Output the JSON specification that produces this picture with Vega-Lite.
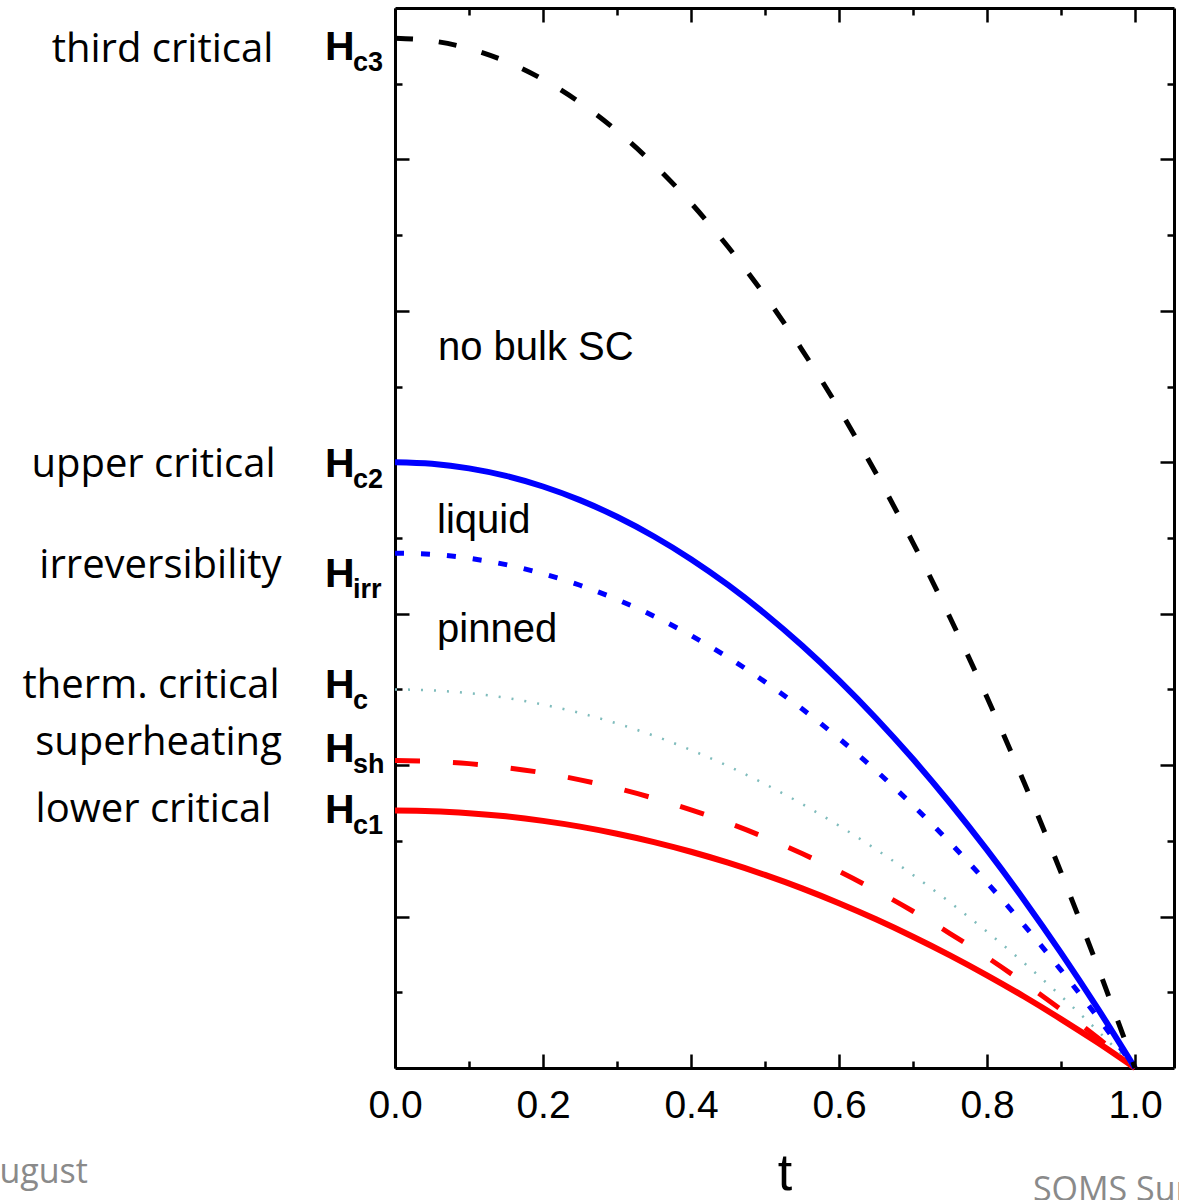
{
  "$schema": "https://vega.github.io/schema/vega-lite/v6.json",
  "width": 779,
  "height": 1060,
  "autosize": "none",
  "padding": {"left": 395, "top": 8, "right": 5, "bottom": 132},
  "background": "white",
  "config": {"view": {"stroke": null}, "axis": {"grid": false}},
  "datasets": {
    "curves": [
      {"curve": "Hc3", "t": 0, "H": 6.8}, {"curve": "Hc3", "t": 0.05, "H": 6.783}, {"curve": "Hc3", "t": 0.1, "H": 6.732}, {"curve": "Hc3", "t": 0.15, "H": 6.647}, {"curve": "Hc3", "t": 0.2, "H": 6.528}, {"curve": "Hc3", "t": 0.25, "H": 6.375}, {"curve": "Hc3", "t": 0.3, "H": 6.188}, {"curve": "Hc3", "t": 0.35, "H": 5.967}, {"curve": "Hc3", "t": 0.4, "H": 5.712}, {"curve": "Hc3", "t": 0.45, "H": 5.423}, {"curve": "Hc3", "t": 0.5, "H": 5.1}, {"curve": "Hc3", "t": 0.55, "H": 4.743}, {"curve": "Hc3", "t": 0.6, "H": 4.352}, {"curve": "Hc3", "t": 0.65, "H": 3.927}, {"curve": "Hc3", "t": 0.7, "H": 3.468}, {"curve": "Hc3", "t": 0.75, "H": 2.975}, {"curve": "Hc3", "t": 0.8, "H": 2.448}, {"curve": "Hc3", "t": 0.85, "H": 1.887}, {"curve": "Hc3", "t": 0.9, "H": 1.292}, {"curve": "Hc3", "t": 0.95, "H": 0.663}, {"curve": "Hc3", "t": 1.0, "H": 0},
      {"curve": "Hc2", "t": 0, "H": 4.0}, {"curve": "Hc2", "t": 0.05, "H": 3.99}, {"curve": "Hc2", "t": 0.1, "H": 3.96}, {"curve": "Hc2", "t": 0.15, "H": 3.91}, {"curve": "Hc2", "t": 0.2, "H": 3.84}, {"curve": "Hc2", "t": 0.25, "H": 3.75}, {"curve": "Hc2", "t": 0.3, "H": 3.64}, {"curve": "Hc2", "t": 0.35, "H": 3.51}, {"curve": "Hc2", "t": 0.4, "H": 3.36}, {"curve": "Hc2", "t": 0.45, "H": 3.19}, {"curve": "Hc2", "t": 0.5, "H": 3.0}, {"curve": "Hc2", "t": 0.55, "H": 2.79}, {"curve": "Hc2", "t": 0.6, "H": 2.56}, {"curve": "Hc2", "t": 0.65, "H": 2.31}, {"curve": "Hc2", "t": 0.7, "H": 2.04}, {"curve": "Hc2", "t": 0.75, "H": 1.75}, {"curve": "Hc2", "t": 0.8, "H": 1.44}, {"curve": "Hc2", "t": 0.85, "H": 1.11}, {"curve": "Hc2", "t": 0.9, "H": 0.76}, {"curve": "Hc2", "t": 0.95, "H": 0.39}, {"curve": "Hc2", "t": 1.0, "H": 0},
      {"curve": "Hirr", "t": 0, "H": 3.4}, {"curve": "Hirr", "t": 0.05, "H": 3.392}, {"curve": "Hirr", "t": 0.1, "H": 3.366}, {"curve": "Hirr", "t": 0.15, "H": 3.324}, {"curve": "Hirr", "t": 0.2, "H": 3.264}, {"curve": "Hirr", "t": 0.25, "H": 3.188}, {"curve": "Hirr", "t": 0.3, "H": 3.094}, {"curve": "Hirr", "t": 0.35, "H": 2.984}, {"curve": "Hirr", "t": 0.4, "H": 2.856}, {"curve": "Hirr", "t": 0.45, "H": 2.712}, {"curve": "Hirr", "t": 0.5, "H": 2.55}, {"curve": "Hirr", "t": 0.55, "H": 2.372}, {"curve": "Hirr", "t": 0.6, "H": 2.176}, {"curve": "Hirr", "t": 0.65, "H": 1.964}, {"curve": "Hirr", "t": 0.7, "H": 1.734}, {"curve": "Hirr", "t": 0.75, "H": 1.488}, {"curve": "Hirr", "t": 0.8, "H": 1.224}, {"curve": "Hirr", "t": 0.85, "H": 0.944}, {"curve": "Hirr", "t": 0.9, "H": 0.646}, {"curve": "Hirr", "t": 0.95, "H": 0.332}, {"curve": "Hirr", "t": 1.0, "H": 0},
      {"curve": "Hc", "t": 0, "H": 2.5}, {"curve": "Hc", "t": 0.05, "H": 2.494}, {"curve": "Hc", "t": 0.1, "H": 2.475}, {"curve": "Hc", "t": 0.15, "H": 2.444}, {"curve": "Hc", "t": 0.2, "H": 2.4}, {"curve": "Hc", "t": 0.25, "H": 2.344}, {"curve": "Hc", "t": 0.3, "H": 2.275}, {"curve": "Hc", "t": 0.35, "H": 2.194}, {"curve": "Hc", "t": 0.4, "H": 2.1}, {"curve": "Hc", "t": 0.45, "H": 1.994}, {"curve": "Hc", "t": 0.5, "H": 1.875}, {"curve": "Hc", "t": 0.55, "H": 1.744}, {"curve": "Hc", "t": 0.6, "H": 1.6}, {"curve": "Hc", "t": 0.65, "H": 1.444}, {"curve": "Hc", "t": 0.7, "H": 1.275}, {"curve": "Hc", "t": 0.75, "H": 1.094}, {"curve": "Hc", "t": 0.8, "H": 0.9}, {"curve": "Hc", "t": 0.85, "H": 0.694}, {"curve": "Hc", "t": 0.9, "H": 0.475}, {"curve": "Hc", "t": 0.95, "H": 0.244}, {"curve": "Hc", "t": 1.0, "H": 0},
      {"curve": "Hsh", "t": 0, "H": 2.03}, {"curve": "Hsh", "t": 0.05, "H": 2.025}, {"curve": "Hsh", "t": 0.1, "H": 2.01}, {"curve": "Hsh", "t": 0.15, "H": 1.984}, {"curve": "Hsh", "t": 0.2, "H": 1.949}, {"curve": "Hsh", "t": 0.25, "H": 1.903}, {"curve": "Hsh", "t": 0.3, "H": 1.847}, {"curve": "Hsh", "t": 0.35, "H": 1.781}, {"curve": "Hsh", "t": 0.4, "H": 1.705}, {"curve": "Hsh", "t": 0.45, "H": 1.619}, {"curve": "Hsh", "t": 0.5, "H": 1.523}, {"curve": "Hsh", "t": 0.55, "H": 1.416}, {"curve": "Hsh", "t": 0.6, "H": 1.299}, {"curve": "Hsh", "t": 0.65, "H": 1.172}, {"curve": "Hsh", "t": 0.7, "H": 1.035}, {"curve": "Hsh", "t": 0.75, "H": 0.888}, {"curve": "Hsh", "t": 0.8, "H": 0.731}, {"curve": "Hsh", "t": 0.85, "H": 0.563}, {"curve": "Hsh", "t": 0.9, "H": 0.386}, {"curve": "Hsh", "t": 0.95, "H": 0.198}, {"curve": "Hsh", "t": 1.0, "H": 0},
      {"curve": "Hc1", "t": 0, "H": 1.7}, {"curve": "Hc1", "t": 0.05, "H": 1.696}, {"curve": "Hc1", "t": 0.1, "H": 1.683}, {"curve": "Hc1", "t": 0.15, "H": 1.662}, {"curve": "Hc1", "t": 0.2, "H": 1.632}, {"curve": "Hc1", "t": 0.25, "H": 1.594}, {"curve": "Hc1", "t": 0.3, "H": 1.547}, {"curve": "Hc1", "t": 0.35, "H": 1.492}, {"curve": "Hc1", "t": 0.4, "H": 1.428}, {"curve": "Hc1", "t": 0.45, "H": 1.356}, {"curve": "Hc1", "t": 0.5, "H": 1.275}, {"curve": "Hc1", "t": 0.55, "H": 1.186}, {"curve": "Hc1", "t": 0.6, "H": 1.088}, {"curve": "Hc1", "t": 0.65, "H": 0.982}, {"curve": "Hc1", "t": 0.7, "H": 0.867}, {"curve": "Hc1", "t": 0.75, "H": 0.744}, {"curve": "Hc1", "t": 0.8, "H": 0.612}, {"curve": "Hc1", "t": 0.85, "H": 0.472}, {"curve": "Hc1", "t": 0.9, "H": 0.323}, {"curve": "Hc1", "t": 0.95, "H": 0.166}, {"curve": "Hc1", "t": 1.0, "H": 0}
    ],
    "labels": [
      {"kind": "desc", "text": "third critical", "x": -0.3142, "y": 6.643},
      {"kind": "desc", "text": "upper critical", "x": -0.3264, "y": 3.903},
      {"kind": "desc", "text": "irreversibility", "x": -0.3169, "y": 3.236},
      {"kind": "desc", "text": "therm. critical", "x": -0.3297, "y": 2.443},
      {"kind": "desc", "text": "superheating", "x": -0.3196, "y": 2.067},
      {"kind": "desc", "text": "lower critical", "x": -0.3264, "y": 1.624},
      {"kind": "H", "text": "H", "x": -0.0946, "y": 6.657},
      {"kind": "H", "text": "H", "x": -0.0946, "y": 3.903},
      {"kind": "H", "text": "H", "x": -0.0946, "y": 3.176},
      {"kind": "H", "text": "H", "x": -0.0946, "y": 2.443},
      {"kind": "H", "text": "H", "x": -0.0946, "y": 2.021},
      {"kind": "H", "text": "H", "x": -0.0946, "y": 1.618},
      {"kind": "sub", "text": "c3", "x": -0.0568, "y": 6.584},
      {"kind": "sub", "text": "c2", "x": -0.0568, "y": 3.830},
      {"kind": "sub", "text": "irr", "x": -0.0568, "y": 3.104},
      {"kind": "sub", "text": "c", "x": -0.0568, "y": 2.371},
      {"kind": "sub", "text": "sh", "x": -0.0568, "y": 1.948},
      {"kind": "sub", "text": "c1", "x": -0.0568, "y": 1.545},
      {"kind": "region", "text": "no bulk SC", "x": 0.0581, "y": 4.675},
      {"kind": "region", "text": "liquid", "x": 0.0568, "y": 3.533},
      {"kind": "region", "text": "pinned", "x": 0.0568, "y": 2.813},
      {"kind": "footR", "text": "August", "x": -0.415, "y": -0.759},
      {"kind": "footL", "text": "SOMS Summer School", "x": 0.862, "y": -0.878}
    ]
  },
  "resolve": {"axis": {"x": "independent", "y": "independent"}},
  "layer": [
    {
      "data": {"name": "curves"},
      "transform": [{"filter": "datum.curve === 'Hc1'"}],
      "mark": {"type": "line", "color": "#ff0000", "strokeWidth": 6, "interpolate": "monotone"},
      "encoding": {
        "x": {"field": "t", "type": "quantitative", "scale": {"domain": [0, 1.0527], "nice": false, "zero": false},
          "axis": {"orient": "bottom", "values": [0, 0.1, 0.2, 0.3, 0.4, 0.5, 0.6, 0.7, 0.8, 0.9, 1.0],
            "labelExpr": "round(datum.value*10)%2 === 0 ? format(datum.value, '.1f') : ''",
            "labelFont": "Liberation Sans", "labelFontSize": 39, "labelColor": "black", "labelPadding": 32, "labelFlush": false, "labelOverlap": false,
            "tickSize": {"condition": {"test": "round(datum.value*10)%2 === 0", "value": -14}, "value": -7},
            "tickWidth": 2.5, "tickColor": "black", "domainColor": "black", "domainWidth": 3,
            "title": "t", "titleFont": "Liberation Sans", "titleFontSize": 52, "titleFontWeight": "normal", "titleColor": "black", "titlePadding": 16}},
        "y": {"field": "H", "type": "quantitative", "scale": {"domain": [0, 7], "nice": false, "zero": false},
          "axis": {"orient": "left", "values": [0.5, 1, 1.5, 2, 2.5, 3, 3.5, 4, 4.5, 5, 5.5, 6, 6.5], "labels": false, "title": null,
            "tickSize": {"condition": {"test": "datum.value % 1 === 0", "value": -14}, "value": -7},
            "tickWidth": 2.5, "tickColor": "black", "domainColor": "black", "domainWidth": 3}}
      }
    },
    {
      "data": {"name": "curves"},
      "transform": [{"filter": "datum.curve === 'Hsh'"}],
      "mark": {"type": "line", "color": "#ff0000", "strokeWidth": 5, "strokeDash": [25, 33], "interpolate": "monotone"},
      "encoding": {
        "x": {"field": "t", "type": "quantitative", "scale": {"domain": [0, 1.0527], "nice": false, "zero": false}, "axis": null},
        "y": {"field": "H", "type": "quantitative", "scale": {"domain": [0, 7], "nice": false, "zero": false}, "axis": null}
      }
    },
    {
      "data": {"name": "curves"},
      "transform": [{"filter": "datum.curve === 'Hc'"}],
      "mark": {"type": "line", "color": "#7fbcbc", "strokeWidth": 2.5, "strokeDash": [2, 11], "interpolate": "monotone"},
      "encoding": {
        "x": {"field": "t", "type": "quantitative", "scale": {"domain": [0, 1.0527], "nice": false, "zero": false}, "axis": null},
        "y": {"field": "H", "type": "quantitative", "scale": {"domain": [0, 7], "nice": false, "zero": false}, "axis": null}
      }
    },
    {
      "data": {"name": "curves"},
      "transform": [{"filter": "datum.curve === 'Hirr'"}],
      "mark": {"type": "line", "color": "#0000ff", "strokeWidth": 5, "strokeDash": [9, 17], "interpolate": "monotone"},
      "encoding": {
        "x": {"field": "t", "type": "quantitative", "scale": {"domain": [0, 1.0527], "nice": false, "zero": false}, "axis": null},
        "y": {"field": "H", "type": "quantitative", "scale": {"domain": [0, 7], "nice": false, "zero": false}, "axis": null}
      }
    },
    {
      "data": {"name": "curves"},
      "transform": [{"filter": "datum.curve === 'Hc2'"}],
      "mark": {"type": "line", "color": "#0000ff", "strokeWidth": 6, "interpolate": "monotone"},
      "encoding": {
        "x": {"field": "t", "type": "quantitative", "scale": {"domain": [0, 1.0527], "nice": false, "zero": false}, "axis": null},
        "y": {"field": "H", "type": "quantitative", "scale": {"domain": [0, 7], "nice": false, "zero": false}, "axis": null}
      }
    },
    {
      "data": {"name": "curves"},
      "transform": [{"filter": "datum.curve === 'Hc3'"}],
      "mark": {"type": "line", "color": "#000000", "strokeWidth": 5, "strokeDash": [18, 26], "interpolate": "monotone"},
      "encoding": {
        "x": {"field": "t", "type": "quantitative", "scale": {"domain": [0, 1.0527], "nice": false, "zero": false},
          "axis": {"orient": "top", "values": [0, 0.1, 0.2, 0.3, 0.4, 0.5, 0.6, 0.7, 0.8, 0.9, 1.0], "labels": false, "title": null,
            "tickSize": {"condition": {"test": "round(datum.value*10)%2 === 0", "value": -14}, "value": -7},
            "tickWidth": 2.5, "tickColor": "black", "domainColor": "black", "domainWidth": 3}},
        "y": {"field": "H", "type": "quantitative", "scale": {"domain": [0, 7], "nice": false, "zero": false},
          "axis": {"orient": "right", "values": [0.5, 1, 1.5, 2, 2.5, 3, 3.5, 4, 4.5, 5, 5.5, 6, 6.5], "labels": false, "title": null,
            "tickSize": {"condition": {"test": "datum.value % 1 === 0", "value": -14}, "value": -7},
            "tickWidth": 2.5, "tickColor": "black", "domainColor": "black", "domainWidth": 3}}
      }
    },
    {
      "data": {"name": "labels"},
      "transform": [{"filter": "datum.kind === 'desc'"}],
      "mark": {"type": "text", "font": "Open Sans", "fontSize": 40, "align": "center", "baseline": "alphabetic", "color": "black"},
      "encoding": {
        "x": {"field": "x", "type": "quantitative", "scale": {"domain": [0, 1.0527], "nice": false, "zero": false}, "axis": null},
        "y": {"field": "y", "type": "quantitative", "scale": {"domain": [0, 7], "nice": false, "zero": false}, "axis": null},
        "text": {"field": "text"}
      }
    },
    {
      "data": {"name": "labels"},
      "transform": [{"filter": "datum.kind === 'H'"}],
      "mark": {"type": "text", "font": "Liberation Sans", "fontSize": 41, "fontWeight": "bold", "align": "left", "baseline": "alphabetic", "color": "black"},
      "encoding": {
        "x": {"field": "x", "type": "quantitative", "scale": {"domain": [0, 1.0527], "nice": false, "zero": false}, "axis": null},
        "y": {"field": "y", "type": "quantitative", "scale": {"domain": [0, 7], "nice": false, "zero": false}, "axis": null},
        "text": {"field": "text"}
      }
    },
    {
      "data": {"name": "labels"},
      "transform": [{"filter": "datum.kind === 'sub'"}],
      "mark": {"type": "text", "font": "Liberation Sans", "fontSize": 27, "fontWeight": "bold", "align": "left", "baseline": "alphabetic", "color": "black"},
      "encoding": {
        "x": {"field": "x", "type": "quantitative", "scale": {"domain": [0, 1.0527], "nice": false, "zero": false}, "axis": null},
        "y": {"field": "y", "type": "quantitative", "scale": {"domain": [0, 7], "nice": false, "zero": false}, "axis": null},
        "text": {"field": "text"}
      }
    },
    {
      "data": {"name": "labels"},
      "transform": [{"filter": "datum.kind === 'region'"}],
      "mark": {"type": "text", "font": "Liberation Sans", "fontSize": 40, "align": "left", "baseline": "alphabetic", "color": "black"},
      "encoding": {
        "x": {"field": "x", "type": "quantitative", "scale": {"domain": [0, 1.0527], "nice": false, "zero": false}, "axis": null},
        "y": {"field": "y", "type": "quantitative", "scale": {"domain": [0, 7], "nice": false, "zero": false}, "axis": null},
        "text": {"field": "text"}
      }
    },
    {
      "data": {"name": "labels"},
      "transform": [{"filter": "datum.kind === 'footR'"}],
      "mark": {"type": "text", "font": "Open Sans", "fontSize": 34, "align": "right", "baseline": "alphabetic", "color": "#8a8a8a"},
      "encoding": {
        "x": {"field": "x", "type": "quantitative", "scale": {"domain": [0, 1.0527], "nice": false, "zero": false}, "axis": null},
        "y": {"field": "y", "type": "quantitative", "scale": {"domain": [0, 7], "nice": false, "zero": false}, "axis": null},
        "text": {"field": "text"}
      }
    },
    {
      "data": {"name": "labels"},
      "transform": [{"filter": "datum.kind === 'footL'"}],
      "mark": {"type": "text", "font": "Open Sans", "fontSize": 34, "align": "left", "baseline": "alphabetic", "color": "#8a8a8a"},
      "encoding": {
        "x": {"field": "x", "type": "quantitative", "scale": {"domain": [0, 1.0527], "nice": false, "zero": false}, "axis": null},
        "y": {"field": "y", "type": "quantitative", "scale": {"domain": [0, 7], "nice": false, "zero": false}, "axis": null},
        "text": {"field": "text"}
      }
    }
  ]
}
